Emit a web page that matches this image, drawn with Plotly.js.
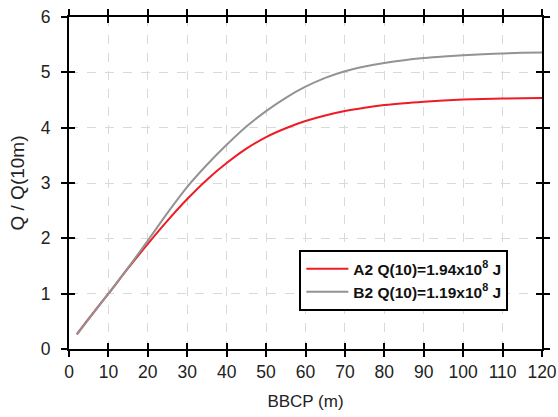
<!DOCTYPE html>
<html>
<head>
<meta charset="utf-8">
<script src="https://cdn.plot.ly/plotly-3.0.1.min.js"></script>
<style>html,body{margin:0;padding:0;background:#fff;}#chart{width:558px;height:417px;}</style>
</head>
<body>
<div id="chart"></div>
<script>
const bbcp = [2, 5, 10, 15, 20, 25, 30, 35, 40, 45, 50, 55, 60, 65, 70, 75, 80, 85, 90, 95, 100, 105, 110, 115, 120];
const a2Values = [0.27, 0.55, 1.0, 1.46, 1.90, 2.32, 2.71, 3.06, 3.36, 3.62, 3.83, 3.99, 4.12, 4.22, 4.30, 4.36, 4.408, 4.443, 4.47, 4.492, 4.508, 4.519, 4.527, 4.533, 4.537];
const b2Values = [0.26, 0.54, 1.0, 1.47, 1.96, 2.46, 2.93, 3.33, 3.69, 4.02, 4.30, 4.54, 4.74, 4.90, 5.02, 5.105, 5.17, 5.22, 5.257, 5.285, 5.307, 5.325, 5.34, 5.352, 5.36];
const seriesNames = ['A2 Q(10)=1.94x10<sup>8</sup> J', 'B2 Q(10)=1.19x10<sup>8</sup> J'];
const xTicks = [0, 10, 20, 30, 40, 50, 60, 70, 80, 90, 100, 110, 120];
const yTicks = [0, 1, 2, 3, 4, 5, 6];

const font = 'Liberation Sans, Arial, sans-serif';
const traces = [
  {x: bbcp, y: a2Values, name: seriesNames[0], mode: 'lines', line: {color: '#ee1c25', width: 2, shape: 'spline'}},
  {x: bbcp, y: b2Values, name: seriesNames[1], mode: 'lines', line: {color: '#939393', width: 2, shape: 'spline'}},
  {x: [0], y: [0], xaxis: 'x2', yaxis: 'y2', mode: 'none', showlegend: false, hoverinfo: 'skip'}
];
const common = {linecolor: '#000', linewidth: 2, tickwidth: 2, tickcolor: '#000', ticklen: 6, zeroline: false};
const layout = {
  width: 558, height: 417,
  margin: {l: 69, r: 16, t: 17, b: 68},
  paper_bgcolor: '#fff', plot_bgcolor: '#fff',
  font: {family: font, color: '#222', size: 17},
  showlegend: true,
  legend: {x: 0.487, y: 0.298, xanchor: 'left', yanchor: 'top', bgcolor: '#fff', bordercolor: '#000', borderwidth: 2,
           font: {family: font, size: 15.5, color: '#111', weight: 'bold'}, tracegroupgap: 0, itemwidth: 42},
  xaxis: Object.assign({}, common, {range: [0, 120], tickvals: xTicks, ticks: 'outside', mirror: 'ticks', showline: true,
           showgrid: true, gridcolor: '#d9d9d9', griddash: 'dash', gridwidth: 1,
           tickfont: {family: font, size: 17.5, color: '#222'},
           title: {text: 'BBCP (m)', font: {family: font, size: 17, color: '#222'}, standoff: 14}}),
  yaxis: Object.assign({}, common, {range: [0, 6], tickvals: yTicks, ticks: 'outside', mirror: 'ticks', showline: true,
           showgrid: true, gridcolor: '#d9d9d9', griddash: 'dash', gridwidth: 1, ticklabelstandoff: 7,
           tickfont: {family: font, size: 17.5, color: '#222'},
           title: {text: 'Q / Q(10m)', font: {family: font, size: 19, color: '#222'}, standoff: 11}}),
  xaxis2: Object.assign({}, common, {range: [0, 120], tickvals: xTicks, ticks: 'inside', mirror: 'ticks', showline: false,
           showgrid: false, showticklabels: false, overlaying: 'x', anchor: 'y2'}),
  yaxis2: Object.assign({}, common, {range: [0, 6], tickvals: yTicks, ticks: 'inside', mirror: 'ticks', showline: false,
           showgrid: false, showticklabels: false, overlaying: 'y', anchor: 'x2'})
};
Plotly.newPlot('chart', traces, layout, {displayModeBar: false, staticPlot: true});
</script>
</body>
</html>
